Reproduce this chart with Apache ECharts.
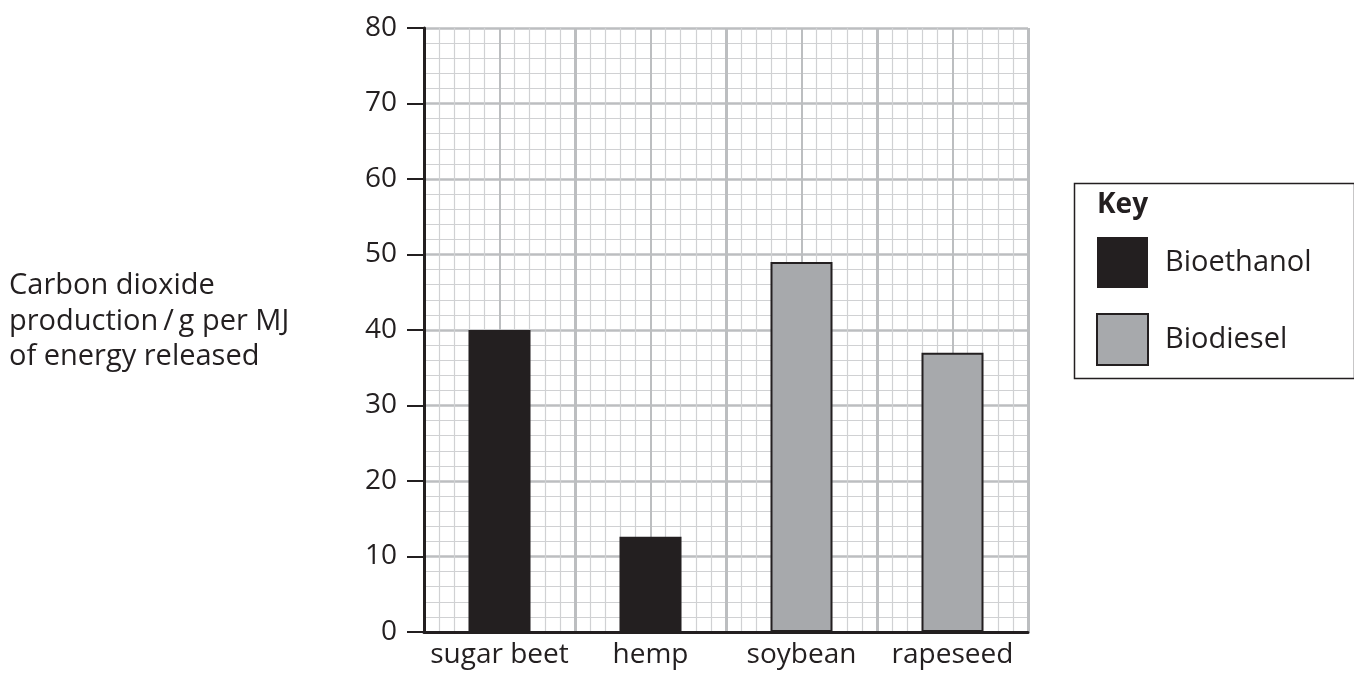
<!DOCTYPE html>
<html>
<head>
<meta charset="utf-8">
<script src="https://cdn.jsdelivr.net/npm/echarts@6/dist/echarts.min.js"></script>
<style>html,body{margin:0;padding:0;background:#fff}#c{width:1354px;height:680px}</style>
</head>
<body>
<div id="c"></div>
<script>
const categories = ['sugar beet', 'hemp', 'soybean', 'rapeseed'];
const bioethanol = [40, 12.6, '-', '-'];
const biodiesel = ['-', '-', 49, 37];
const yTicks = [0, 10, 20, 30, 40, 50, 60, 70, 80];
const yAxisTitle = 'Carbon dioxide\nproduction\u2009/\u2009g per MJ\nof energy released';
const keyTitle = 'Key';

const FONT = '"Open Sans", "Noto Sans", sans-serif';
const INK = '#231f20';
const MAJOR = '#bcbec0';
const MINOR = '#d0d1d3';
const chart = echarts.init(document.getElementById('c'));
chart.setOption({
  animation: false,
  backgroundColor: '#fff',
  grid: { left: 424, right: 326, top: 28, bottom: 48, containLabel: false },
  xAxis: [
    {
      type: 'category', data: categories, z: 5,
      axisLine: { show: true, lineStyle: { color: INK, width: 3 } },
      axisTick: { show: false },
      splitLine: { show: false },
      axisLabel: { color: INK, fontFamily: FONT, fontSize: 28, margin: 9, interval: 0 }
    },
    {
      type: 'value', min: 0, max: 40, interval: 5, show: true, z: 0,
      axisLine: { show: false }, axisTick: { show: false }, axisLabel: { show: false },
      splitLine: { show: true, lineStyle: { color: MAJOR, width: 2 } },
      minorTick: { show: false, splitNumber: 5 },
      minorSplitLine: { show: true, lineStyle: { color: MINOR, width: 1.2 } }
    },
    {
      type: 'value', min: 0, max: 40, interval: 10, show: true, z: 1,
      axisLine: { show: false }, axisTick: { show: false }, axisLabel: { show: false },
      splitLine: { show: true, lineStyle: { color: MAJOR, width: 3 } }
    }
  ],
  yAxis: [
    {
      type: 'value', min: 0, max: 80, interval: 10, z: 5,
      axisLine: { show: true, lineStyle: { color: INK, width: 3 } },
      axisTick: { show: true, inside: false, length: 17, lineStyle: { color: INK, width: 2 } },
      axisLabel: {
        color: INK, fontFamily: FONT, fontSize: 28, margin: 27,
        formatter: v => yTicks.includes(v) ? String(v) : ''
      },
      splitLine: { show: false }
    },
    {
      type: 'value', min: 0, max: 80, interval: 10, z: 0,
      axisLine: { show: false }, axisTick: { show: false }, axisLabel: { show: false },
      splitLine: { show: true, lineStyle: { color: MAJOR, width: 2.5 } },
      minorTick: { show: false, splitNumber: 5 },
      minorSplitLine: { show: true, lineStyle: { color: MINOR, width: 1.2 } }
    }
  ],
  legend: {
    orient: 'vertical', left: 1096, top: 237, padding: 0,
    itemWidth: 51, itemHeight: 51, itemGap: 25, icon: 'rect',
    textStyle: { color: INK, fontFamily: FONT, fontSize: 29, padding: [0, 0, 0, 12] },
    data: ['Bioethanol', 'Biodiesel']
  },
  series: [
    {
      name: 'Bioethanol', type: 'bar', data: bioethanol, barWidth: 62, barGap: '-100%',
      xAxisIndex: 0, yAxisIndex: 0,
      itemStyle: { color: INK }, z: 3
    },
    {
      name: 'Biodiesel', type: 'bar', data: biodiesel, barWidth: 62,
      xAxisIndex: 0, yAxisIndex: 0,
      itemStyle: { color: '#a7a9ac', borderColor: INK, borderWidth: 2 }, z: 3
    }
  ],
  graphic: [
    {
      type: 'text', left: 9, top: 268,
      style: { text: yAxisTitle, fill: INK, font: '29px ' + FONT, lineHeight: 35.5 }
    },
    {
      type: 'rect', left: 1072, top: 181, z: 0,
      shape: { width: 280, height: 195 },
      style: { fill: 'none', stroke: INK, lineWidth: 1.5 }
    },
    {
      type: 'text', left: 1097, top: 191,
      style: { text: keyTitle, fill: INK, font: 'bold 28px ' + FONT }
    }
  ]
});
</script>
</body>
</html>
